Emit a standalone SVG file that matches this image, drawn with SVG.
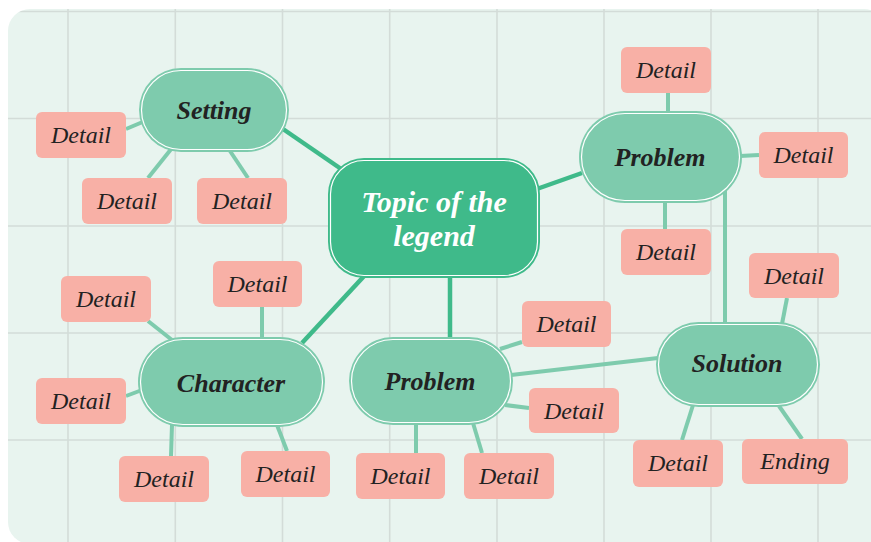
<svg xmlns="http://www.w3.org/2000/svg" width="871" height="542" viewBox="0 0 871 542">
<defs>
<clipPath id="panelClip"><rect x="8" y="9" width="878" height="535" rx="22"/></clipPath>
<style>
.grid line{stroke:#d3dcd8;stroke-width:1.6}
.strong{stroke:#3fba8a;stroke-width:4.5;stroke-linecap:butt}
.light{stroke:#7ecbad;stroke-width:4;stroke-linecap:butt}
.topic{fill:#3fba8a}
.sub{fill:#7ecbad}
.ring{fill:none;stroke:#ffffff;stroke-width:1.2}
.detail rect{fill:#f8b0a6}
.dtext{font-family:"Liberation Serif",serif;font-style:italic;font-size:24px;fill:#222;text-anchor:middle}
.stext{font-family:"Liberation Serif",serif;font-style:italic;font-weight:bold;font-size:26px;fill:#222;text-anchor:middle}
.ttext{font-family:"Liberation Serif",serif;font-style:italic;font-weight:bold;font-size:30px;fill:#fff;text-anchor:middle}
</style>
</defs>
<rect width="871" height="542" fill="#ffffff"/>
<rect x="8" y="9" width="878" height="535" rx="22" fill="#e8f4ef"/>
<g class="grid" clip-path="url(#panelClip)">
<line x1="68" y1="0" x2="68" y2="542"/>
<line x1="175.3" y1="0" x2="175.3" y2="542"/>
<line x1="282.5" y1="0" x2="282.5" y2="542"/>
<line x1="389.7" y1="0" x2="389.7" y2="542"/>
<line x1="497" y1="0" x2="497" y2="542"/>
<line x1="604" y1="0" x2="604" y2="542"/>
<line x1="711" y1="0" x2="711" y2="542"/>
<line x1="818" y1="0" x2="818" y2="542"/>
<line x1="0" y1="11.5" x2="871" y2="11.5"/>
<line x1="0" y1="118.5" x2="871" y2="118.5"/>
<line x1="0" y1="226" x2="871" y2="226"/>
<line x1="0" y1="333" x2="871" y2="333"/>
<line x1="0" y1="440" x2="871" y2="440"/>
</g>
<g id="connectors">
<line class="strong" x1="283" y1="129" x2="347" y2="173"/>
<line class="strong" x1="534" y1="190" x2="582" y2="173"/>
<line class="strong" x1="450" y1="276" x2="450" y2="339"/>
<line class="strong" x1="302" y1="343" x2="366" y2="274"/>
<line class="light" x1="126" y1="129" x2="145" y2="121"/>
<line class="light" x1="148" y1="178" x2="172" y2="148"/>
<line class="light" x1="248" y1="178" x2="228" y2="148"/>
<line class="light" x1="668" y1="93" x2="668" y2="113"/>
<line class="light" x1="740" y1="156" x2="759" y2="155"/>
<line class="light" x1="665" y1="201" x2="665" y2="229"/>
<line class="light" x1="725" y1="188" x2="725" y2="324"/>
<line class="light" x1="787" y1="298" x2="782" y2="324"/>
<line class="light" x1="693" y1="405" x2="682" y2="440"/>
<line class="light" x1="779" y1="406" x2="802" y2="439"/>
<line class="light" x1="511" y1="375" x2="658" y2="358"/>
<line class="light" x1="500" y1="349" x2="522" y2="342"/>
<line class="light" x1="505" y1="405" x2="529" y2="408"/>
<line class="light" x1="473" y1="423" x2="482" y2="453"/>
<line class="light" x1="416" y1="425" x2="416" y2="453"/>
<line class="light" x1="148" y1="321" x2="172" y2="340"/>
<line class="light" x1="262" y1="307" x2="262" y2="338"/>
<line class="light" x1="126" y1="396" x2="142" y2="390"/>
<line class="light" x1="172" y1="425" x2="171" y2="456"/>
<line class="light" x1="277" y1="425" x2="287" y2="451"/>
</g>
<g id="topic">
<rect class="topic" x="328" y="158" width="212" height="120" rx="36"/>
<rect class="ring" x="330.5" y="160.5" width="207" height="115" rx="33.5"/>
<text class="ttext" x="434" y="212">Topic of the</text>
<text class="ttext" x="434" y="246">legend</text>
</g>
<g id="setting">
<rect class="sub" x="139" y="68" width="150" height="84" rx="42"/>
<rect class="ring" x="141.5" y="70.5" width="145" height="79" rx="39.5"/>
<text class="stext" x="214" y="119">Setting</text>
</g>
<g id="problem-top">
<rect class="sub" x="579" y="111" width="163" height="92" rx="46"/>
<rect class="ring" x="581.5" y="113.5" width="158" height="87" rx="43.5"/>
<text class="stext" x="660" y="166">Problem</text>
</g>
<g id="solution">
<rect class="sub" x="656" y="322" width="164" height="85" rx="42.5"/>
<rect class="ring" x="658.5" y="324.5" width="159" height="80" rx="40"/>
<text class="stext" x="737" y="372">Solution</text>
</g>
<g id="problem-mid">
<rect class="sub" x="349" y="337" width="164" height="88" rx="44"/>
<rect class="ring" x="351.5" y="339.5" width="159" height="83" rx="41.5"/>
<text class="stext" x="430" y="390">Problem</text>
</g>
<g id="character">
<rect class="sub" x="138" y="337" width="187" height="90" rx="45"/>
<rect class="ring" x="140.5" y="339.5" width="182" height="85" rx="42.5"/>
<text class="stext" x="231" y="392">Character</text>
</g>
<g id="d1" class="detail"><rect x="36" y="112" width="90" height="46" rx="6"/><text class="dtext" x="81" y="143">Detail</text></g>
<g id="d2" class="detail"><rect x="82" y="178" width="90" height="46" rx="6"/><text class="dtext" x="127" y="209">Detail</text></g>
<g id="d3" class="detail"><rect x="197" y="178" width="90" height="46" rx="6"/><text class="dtext" x="242" y="209">Detail</text></g>
<g id="d4" class="detail"><rect x="621" y="47" width="90" height="46" rx="6"/><text class="dtext" x="666" y="78">Detail</text></g>
<g id="d5" class="detail"><rect x="759" y="132" width="89" height="46" rx="6"/><text class="dtext" x="803.5" y="163">Detail</text></g>
<g id="d6" class="detail"><rect x="621" y="229" width="90" height="46" rx="6"/><text class="dtext" x="666" y="260">Detail</text></g>
<g id="d7" class="detail"><rect x="749" y="253" width="90" height="45" rx="6"/><text class="dtext" x="794" y="284">Detail</text></g>
<g id="d8" class="detail"><rect x="633" y="440" width="90" height="47" rx="6"/><text class="dtext" x="678" y="471">Detail</text></g>
<g id="ending" class="detail"><rect x="742" y="439" width="106" height="45" rx="6"/><text class="dtext" x="795" y="469">Ending</text></g>
<g id="d10" class="detail"><rect x="522" y="301" width="89" height="46" rx="6"/><text class="dtext" x="566.5" y="332">Detail</text></g>
<g id="d11" class="detail"><rect x="529" y="388" width="90" height="45" rx="6"/><text class="dtext" x="574" y="419">Detail</text></g>
<g id="d12" class="detail"><rect x="464" y="453" width="90" height="46" rx="6"/><text class="dtext" x="509" y="484">Detail</text></g>
<g id="d13" class="detail"><rect x="356" y="453" width="89" height="46" rx="6"/><text class="dtext" x="400.5" y="484">Detail</text></g>
<g id="d14" class="detail"><rect x="61" y="276" width="90" height="46" rx="6"/><text class="dtext" x="106" y="307">Detail</text></g>
<g id="d15" class="detail"><rect x="213" y="261" width="89" height="46" rx="6"/><text class="dtext" x="257.5" y="292">Detail</text></g>
<g id="d16" class="detail"><rect x="36" y="378" width="90" height="46" rx="6"/><text class="dtext" x="81" y="409">Detail</text></g>
<g id="d17" class="detail"><rect x="119" y="456" width="90" height="46" rx="6"/><text class="dtext" x="164" y="487">Detail</text></g>
<g id="d18" class="detail"><rect x="241" y="451" width="89" height="46" rx="6"/><text class="dtext" x="285.5" y="482">Detail</text></g>
</svg>
